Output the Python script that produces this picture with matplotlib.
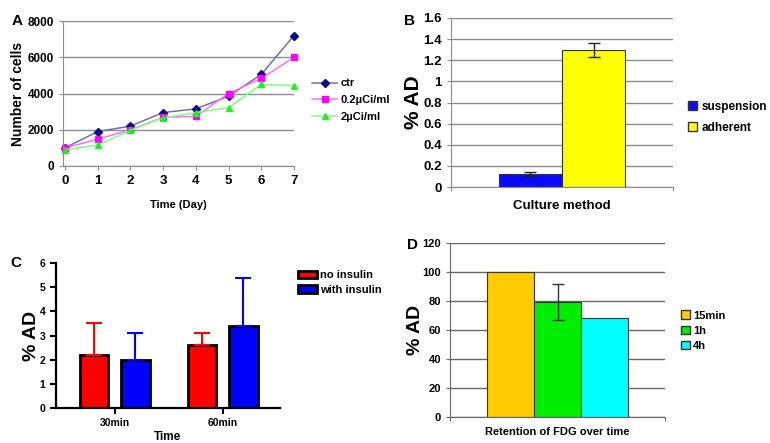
"""Four-panel figure: cell growth, culture method, insulin effect and FDG retention."""

import matplotlib

matplotlib.use("Agg")
import matplotlib.pyplot as plt
from matplotlib.patches import Patch

plt.rcParams["font.family"] = ["Liberation Sans", "DejaVu Sans"]
plt.rcParams["font.weight"] = "bold"

W, H = 770, 443

# Panel A: cell counts over days
days = [0, 1, 2, 3, 4, 5, 6, 7]
cells_ctr = [1000, 1900, 2200, 2950, 3150, 3850, 5050, 7200]
cells_02 = [1000, 1480, 2000, 2680, 2740, 4000, 4830, 6000]
cells_2 = [900, 1150, 1970, 2650, 2950, 3220, 4500, 4430]
series_a = ["ctr", "0.2\u00b5Ci/ml", "2\u00b5Ci/ml"]

# Panel B: culture method
culture = ["suspension", "adherent"]
culture_ad = [0.12, 1.30]
culture_err = [0.02, 0.065]

# Panel C: insulin
times_c = ["30min", "60min"]
no_insulin = [2.2, 2.6]
no_insulin_err = [1.3, 0.5]
with_insulin = [2.0, 3.4]
with_insulin_err = [1.1, 2.0]

# Panel D: FDG retention
retention = ["15min", "1h", "4h"]
retention_ad = [100, 79.5, 68]
retention_err = [0, 12.5, 0]


def px_axes(fig, left, top, right, bottom):
    return fig.add_axes([left / W, 1 - bottom / H, (right - left) / W, (bottom - top) / H])


def excel_style(ax, grid_color="#8c8c8c"):
    for side in ("top", "right"):
        ax.spines[side].set_visible(False)
    for side in ("left", "bottom"):
        ax.spines[side].set_color(grid_color)
    ax.yaxis.grid(True, color=grid_color, linewidth=1.0)
    ax.set_axisbelow(True)
    ax.tick_params(colors=grid_color, labelcolor="black", length=3)


fig = plt.figure(figsize=(W / 100, H / 100), dpi=100)

# ---- A ----
ax_a = px_axes(fig, 63, 21, 294, 166)
excel_style(ax_a)
styles = [
    ("#7070a0", "#0a0a80", "D", 4),
    ("#ff70ff", "#ff00ff", "s", 4.5),
    ("#80ff80", "#22ee22", "^", 5),
]
for vals, label, (lc, mc, mk, ms) in zip([cells_ctr, cells_02, cells_2], series_a, styles):
    ax_a.plot(days, vals, color=lc, linewidth=1.1, marker=mk, markersize=ms,
              markerfacecolor=mc, markeredgecolor=mc, label=label, clip_on=False)
ax_a.set_xlim(-0.06, 7.0)
ax_a.set_ylim(0, 8000)
ax_a.set_xticks(days)
ax_a.set_yticks([0, 2000, 4000, 6000, 8000])
ax_a.tick_params(labelsize=8.5)
ax_a.tick_params(axis="x", labelsize=9.5)
ax_a.set_xlabel("Time (Day)", fontsize=8, fontweight="bold", labelpad=9)
ax_a.set_ylabel("Number of cells", fontsize=10, fontweight="bold", labelpad=2)
ax_a.legend(loc="upper left", bbox_to_anchor=(308 / W, 1 - 74 / H), bbox_transform=fig.transFigure,
            frameon=False, fontsize=8, handlelength=2.2, handletextpad=0.3, labelspacing=0.6,
            borderaxespad=0)
fig.text(12 / W, 1 - 21 / H, "A", fontsize=11, fontweight="bold", va="center")

# ---- B ----
ax_b = px_axes(fig, 451, 18, 673, 187)
excel_style(ax_b)
width_b = 0.285
pos_b = [0.5 - width_b / 2, 0.5 + width_b / 2]
ax_b.bar(pos_b, culture_ad, width=width_b, yerr=culture_err, color=["#0a0aff", "#ffff00"],
         edgecolor="#333333", linewidth=0.8, capsize=4,
         error_kw={"elinewidth": 1.0, "ecolor": "#222222", "capthick": 1.0})
ax_b.set_xlim(0, 1)
ax_b.set_ylim(0, 1.6)
ax_b.set_xticks([0, 1])
ax_b.set_xticklabels([])
yt = [0, 0.2, 0.4, 0.6, 0.8, 1, 1.2, 1.4, 1.6]
ax_b.set_yticks(yt)
ax_b.set_yticklabels([f"{v:g}" for v in yt], fontsize=9.5)
ax_b.set_xlabel("Culture method", fontsize=9.5, fontweight="bold", labelpad=3)
ax_b.set_ylabel("% AD", fontsize=15, fontweight="bold", labelpad=0)
handles_b = [Patch(facecolor=c, edgecolor="#333333") for c in ["#0a0aff", "#ffff00"]]
ax_b.legend(handles_b, culture, loc="upper left", bbox_to_anchor=(683 / W, 1 - 96 / H),
            bbox_transform=fig.transFigure, frameon=False, fontsize=8.5, handlelength=0.8,
            handleheight=0.8, handletextpad=0.35, labelspacing=0.75, borderaxespad=0)
fig.text(404 / W, 1 - 21 / H, "B", fontsize=11, fontweight="bold", va="center")

# ---- C ----
ax_c = px_axes(fig, 56, 263, 280, 408)
for side in ("top", "right"):
    ax_c.spines[side].set_visible(False)
for side in ("left", "bottom"):
    ax_c.spines[side].set_linewidth(1.6)
x_c = [0, 1]
off_c = 0.19
wid_c = 0.26
ax_c.bar([x - off_c for x in x_c], no_insulin, width=wid_c, color="#ff0000", edgecolor="black",
         linewidth=2, label="no insulin")
ax_c.bar([x + off_c for x in x_c], with_insulin, width=wid_c, color="#0000ff", edgecolor="black",
         linewidth=2, label="with insulin")
ax_c.errorbar([x - off_c for x in x_c], no_insulin, yerr=[[0, 0], no_insulin_err], fmt="none",
              ecolor="#ff0000", elinewidth=1.5, capsize=6, capthick=1.5, zorder=1)
ax_c.errorbar([x + off_c for x in x_c], with_insulin, yerr=[[0, 0], with_insulin_err], fmt="none",
              ecolor="#0000ff", elinewidth=1.5, capsize=6, capthick=1.5, zorder=1)
ax_c.set_xlim(-0.546, 1.528)
ax_c.set_ylim(0, 6)
ax_c.set_xticks(x_c)
ax_c.set_xticklabels(times_c)
ax_c.set_yticks(range(7))
ax_c.tick_params(labelsize=7.5, width=1.5, length=4)
ax_c.set_xlabel("Time", fontsize=8.5, fontweight="bold", labelpad=1.5)
ax_c.set_ylabel("% AD", fontsize=14, fontweight="bold", labelpad=0)
ax_c.legend(loc="upper left", bbox_to_anchor=(294 / W, 1 - 266 / H), bbox_transform=fig.transFigure,
            frameon=False, fontsize=8, handlelength=1.7, handleheight=0.7, handletextpad=0.25,
            labelspacing=0.4, borderaxespad=0)
fig.text(10 / W, 1 - 263 / H, "C", fontsize=11, fontweight="bold", va="center")

# ---- D ----
ax_d = px_axes(fig, 450, 243, 665, 417)
excel_style(ax_d, grid_color="#666666")
width_d = 0.219
pos_d = [0.5 - width_d, 0.5, 0.5 + width_d]
colors_d = ["#ffcc00", "#00ee00", "#00ffff"]
ax_d.bar(pos_d, retention_ad, width=width_d, color=colors_d, edgecolor="#333333", linewidth=0.8)
ax_d.errorbar(pos_d[1], retention_ad[1], yerr=retention_err[1], fmt="none", ecolor="#333333",
              elinewidth=1.0, capsize=4, capthick=1.0)
ax_d.set_xlim(0, 1)
ax_d.set_ylim(0, 120)
ax_d.set_xticks([0, 1])
ax_d.set_xticklabels([])
ax_d.set_yticks(range(0, 121, 20))
ax_d.tick_params(labelsize=8)
ax_d.set_xlabel("Retention of FDG over time", fontsize=8, fontweight="bold", labelpad=1)
ax_d.set_ylabel("% AD", fontsize=14, fontweight="bold", labelpad=-1)
handles_d = [Patch(facecolor=c, edgecolor="#333333") for c in colors_d]
ax_d.legend(handles_d, retention, loc="upper left", bbox_to_anchor=(677 / W, 1 - 306 / H),
            bbox_transform=fig.transFigure, frameon=False, fontsize=8, handlelength=0.8,
            handleheight=0.8, handletextpad=0.25, labelspacing=0.45, borderaxespad=0)
fig.text(407 / W, 1 - 245 / H, "D", fontsize=11, fontweight="bold", va="center")

fig.savefig("out.png", dpi=100)
